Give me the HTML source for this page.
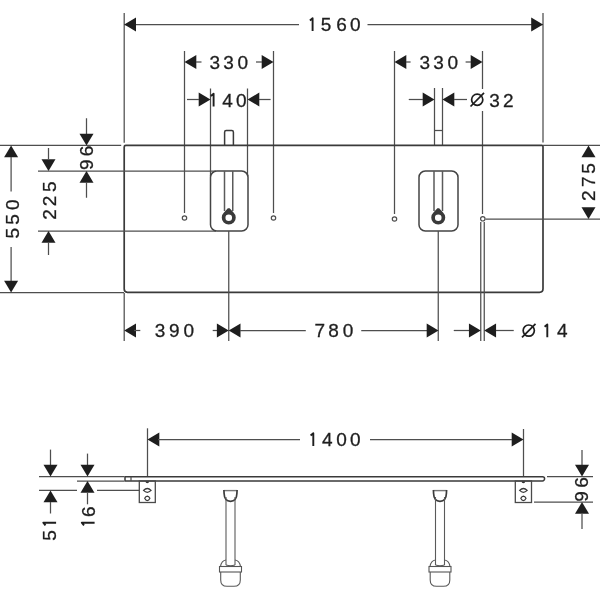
<!DOCTYPE html>
<html><head><meta charset="utf-8"><style>
html,body{margin:0;padding:0;background:#fff;}
svg{display:block;filter:grayscale(100%);}
text{font-family:"Liberation Sans",sans-serif;font-size:19px;fill:#1e1e1e;stroke:#1e1e1e;stroke-width:0.3px;}
</style></head><body>
<svg width="600" height="600" viewBox="0 0 600 600">
<rect width="600" height="600" fill="#fff"/>
<line x1="124.2" y1="13" x2="124.2" y2="142.7" stroke="#4e4e4e" stroke-width="1.25"/>
<line x1="543.0" y1="13" x2="543.0" y2="142.5" stroke="#4e4e4e" stroke-width="1.25"/>
<line x1="124.2" y1="24.5" x2="299" y2="24.5" stroke="#4e4e4e" stroke-width="1.25"/>
<line x1="367.5" y1="24.5" x2="543.0" y2="24.5" stroke="#4e4e4e" stroke-width="1.25"/>
<polygon points="124.20,24.50 136.00,17.50 136.00,31.50" fill="#1e1e1e"/>
<polygon points="543.00,24.50 531.20,17.50 531.20,31.50" fill="#1e1e1e"/>
<path d="M312.60,31 L312.60,18.20 L309.90,20.40" fill="none" stroke="#1e1e1e" stroke-width="1.9" stroke-linejoin="round"/>
<text x="320.70 336.15 350.00" y="31">560</text>
<line x1="184.5" y1="51" x2="184.5" y2="213" stroke="#4e4e4e" stroke-width="1.25"/>
<line x1="273.5" y1="51" x2="273.5" y2="213" stroke="#4e4e4e" stroke-width="1.25"/>
<polygon points="184.50,62.00 196.30,55.00 196.30,69.00" fill="#1e1e1e"/>
<polygon points="273.50,62.00 261.70,55.00 261.70,69.00" fill="#1e1e1e"/>
<line x1="196" y1="62" x2="201.5" y2="62" stroke="#4e4e4e" stroke-width="1.25"/>
<line x1="256" y1="62" x2="262" y2="62" stroke="#4e4e4e" stroke-width="1.25"/>
<text x="209.60 223.30 237.50" y="69">330</text>
<line x1="210.5" y1="88.5" x2="210.5" y2="176" stroke="#4e4e4e" stroke-width="1.25"/>
<line x1="247.5" y1="88.5" x2="247.5" y2="176" stroke="#4e4e4e" stroke-width="1.25"/>
<polygon points="210.50,99.50 198.70,92.50 198.70,106.50" fill="#1e1e1e"/>
<polygon points="247.50,99.50 259.30,92.50 259.30,106.50" fill="#1e1e1e"/>
<line x1="187" y1="99.5" x2="199" y2="99.5" stroke="#4e4e4e" stroke-width="1.25"/>
<line x1="259" y1="99.5" x2="270.6" y2="99.5" stroke="#4e4e4e" stroke-width="1.25"/>
<path d="M213.60,106.5 L213.60,93.70 L210.90,95.90" fill="none" stroke="#1e1e1e" stroke-width="1.9" stroke-linejoin="round"/>
<text x="222.30 236.05" y="106.5">40</text>
<line x1="394.5" y1="51" x2="394.5" y2="214" stroke="#4e4e4e" stroke-width="1.25"/>
<line x1="482.5" y1="51" x2="482.5" y2="89" stroke="#4e4e4e" stroke-width="1.25"/>
<line x1="482.5" y1="111" x2="482.5" y2="214" stroke="#4e4e4e" stroke-width="1.25"/>
<polygon points="394.50,62.00 406.30,55.00 406.30,69.00" fill="#1e1e1e"/>
<polygon points="482.50,62.00 470.70,55.00 470.70,69.00" fill="#1e1e1e"/>
<line x1="406" y1="62" x2="410.6" y2="62" stroke="#4e4e4e" stroke-width="1.25"/>
<line x1="465.6" y1="62" x2="471" y2="62" stroke="#4e4e4e" stroke-width="1.25"/>
<text x="419.60 433.30 447.50" y="69">330</text>
<line x1="434.5" y1="88" x2="434.5" y2="145" stroke="#4e4e4e" stroke-width="1.25"/>
<line x1="442.5" y1="88" x2="442.5" y2="145" stroke="#4e4e4e" stroke-width="1.25"/>
<polygon points="434.50,99.50 422.70,92.50 422.70,106.50" fill="#1e1e1e"/>
<polygon points="442.50,99.50 454.30,92.50 454.30,106.50" fill="#1e1e1e"/>
<line x1="408.75" y1="99.5" x2="423" y2="99.5" stroke="#4e4e4e" stroke-width="1.25"/>
<line x1="454" y1="99.5" x2="467" y2="99.5" stroke="#4e4e4e" stroke-width="1.25"/>
<g fill="none" stroke="#1e1e1e" stroke-width="1.7"><circle cx="477.2" cy="99.7" r="5.6"/><line x1="470.5" y1="106.5" x2="484" y2="92.8"/></g>
<text x="489.20 503.10" y="106.7">32</text>
<path d="M124.2,146.9 Q124.2,145.3 125.8,145.3 L541.8,145.3 Q543.0,145.3 543.0,146.5 L543.0,288.8 Q543.0,292.3 539.5,292.3 L127.4,292.3 Q124.2,292.3 124.2,289.1 Z" fill="none" stroke="#3a3a3a" stroke-width="1.7"/>
<line x1="0" y1="145.4" x2="121.2" y2="145.4" stroke="#4e4e4e" stroke-width="1.25"/>
<line x1="543" y1="145.4" x2="600" y2="145.4" stroke="#4e4e4e" stroke-width="1.25"/>
<line x1="38" y1="171" x2="216" y2="171" stroke="#4e4e4e" stroke-width="1.25"/>
<line x1="38" y1="231" x2="216" y2="231" stroke="#4e4e4e" stroke-width="1.25"/>
<line x1="0" y1="292.6" x2="124" y2="292.6" stroke="#4e4e4e" stroke-width="1.25"/>
<line x1="485.5" y1="219" x2="600" y2="219" stroke="#4e4e4e" stroke-width="1.25"/>
<rect x="210.5" y="171" width="37.5" height="60" rx="6.3" fill="none" stroke="#444" stroke-width="1.5"/>
<line x1="224.5" y1="171" x2="224.5" y2="211" stroke="#5a5a5a" stroke-width="1.5"/>
<line x1="232.75" y1="171" x2="232.75" y2="211" stroke="#5a5a5a" stroke-width="1.5"/>
<path d="M227.85,208.2 L229.65,208.2 L233.54,212.50 A7.0,7.0 0 1 1 223.96,212.50 Z M232.05,217.75 A3.3,3.3 0 1 0 225.45,217.75 A3.3,3.3 0 1 0 232.05,217.75 Z" fill="#3a3a3a" fill-rule="evenodd"/>
<line x1="228.75" y1="231" x2="228.75" y2="341" stroke="#4e4e4e" stroke-width="1.25"/>
<rect x="419" y="171" width="39" height="60" rx="6.3" fill="none" stroke="#444" stroke-width="1.5"/>
<line x1="434" y1="171" x2="434" y2="211" stroke="#5a5a5a" stroke-width="1.5"/>
<line x1="442.5" y1="171" x2="442.5" y2="211" stroke="#5a5a5a" stroke-width="1.5"/>
<path d="M437.35,208.2 L439.15,208.2 L443.04,212.50 A7.0,7.0 0 1 1 433.46,212.50 Z M441.55,217.75 A3.3,3.3 0 1 0 434.95,217.75 A3.3,3.3 0 1 0 441.55,217.75 Z" fill="#3a3a3a" fill-rule="evenodd"/>
<line x1="438.25" y1="231" x2="438.25" y2="341" stroke="#4e4e4e" stroke-width="1.25"/>
<path d="M224.6,145 L224.6,132.2 Q224.6,130.6 226.2,130.6 L231.8,130.6 Q233.4,130.6 233.4,132.2 L233.4,145" fill="none" stroke="#3a3a3a" stroke-width="1.5"/>
<line x1="434.5" y1="130.5" x2="442.5" y2="130.5" stroke="#4e4e4e" stroke-width="1.25"/>
<circle cx="184.5" cy="218" r="2.2" fill="none" stroke="#4e4e4e" stroke-width="1.2"/>
<circle cx="273.5" cy="218" r="2.2" fill="none" stroke="#4e4e4e" stroke-width="1.2"/>
<circle cx="394.5" cy="219" r="2.2" fill="none" stroke="#4e4e4e" stroke-width="1.2"/>
<circle cx="482.8" cy="218.8" r="2.2" fill="none" stroke="#4e4e4e" stroke-width="1.2"/>
<line x1="480.75" y1="222" x2="480.75" y2="341" stroke="#4e4e4e" stroke-width="1.25"/>
<line x1="484.25" y1="222" x2="484.25" y2="341" stroke="#4e4e4e" stroke-width="1.25"/>
<line x1="124.2" y1="293" x2="124.2" y2="341" stroke="#4e4e4e" stroke-width="1.25"/>
<polygon points="124.20,330.50 136.00,323.50 136.00,337.50" fill="#1e1e1e"/>
<line x1="134" y1="330.5" x2="140.3" y2="330.5" stroke="#4e4e4e" stroke-width="1.25"/>
<text x="154.80 168.90 183.50" y="337.3">390</text>
<line x1="212.7" y1="330.5" x2="218" y2="330.5" stroke="#4e4e4e" stroke-width="1.25"/>
<polygon points="228.70,330.50 216.90,323.50 216.90,337.50" fill="#1e1e1e"/>
<polygon points="228.70,330.50 240.50,323.50 240.50,337.50" fill="#1e1e1e"/>
<line x1="240" y1="330.5" x2="305.8" y2="330.5" stroke="#4e4e4e" stroke-width="1.25"/>
<text x="314.50 328.25 342.65" y="337">780</text>
<line x1="361.25" y1="330.5" x2="427" y2="330.5" stroke="#4e4e4e" stroke-width="1.25"/>
<polygon points="438.50,330.50 426.70,323.50 426.70,337.50" fill="#1e1e1e"/>
<line x1="453.75" y1="330.5" x2="469" y2="330.5" stroke="#4e4e4e" stroke-width="1.25"/>
<polygon points="480.75,330.50 468.95,323.50 468.95,337.50" fill="#1e1e1e"/>
<polygon points="484.25,330.50 496.05,323.50 496.05,337.50" fill="#1e1e1e"/>
<line x1="496" y1="330.5" x2="513.75" y2="330.5" stroke="#4e4e4e" stroke-width="1.25"/>
<g fill="none" stroke="#1e1e1e" stroke-width="1.7"><circle cx="528.75" cy="330.6" r="5.6"/><line x1="522" y1="337.4" x2="535.5" y2="323.8"/></g>
<path d="M547.30,337.3 L547.30,324.50 L544.60,326.70" fill="none" stroke="#1e1e1e" stroke-width="1.9" stroke-linejoin="round"/>
<text x="557.05" y="337.3">4</text>
<polygon points="11.10,145.50 4.10,157.30 18.10,157.30" fill="#1e1e1e"/>
<line x1="11.1" y1="157" x2="11.1" y2="191.5" stroke="#4e4e4e" stroke-width="1.25"/>
<line x1="11.1" y1="247" x2="11.1" y2="281" stroke="#4e4e4e" stroke-width="1.25"/>
<polygon points="11.10,292.50 4.10,280.70 18.10,280.70" fill="#1e1e1e"/>
<text transform="rotate(-90)" x="-238.55 -224.80 -210.00" y="18.5">550</text>
<line x1="48.5" y1="148" x2="48.5" y2="159" stroke="#4e4e4e" stroke-width="1.25"/>
<polygon points="48.50,171.00 41.50,159.20 55.50,159.20" fill="#1e1e1e"/>
<polygon points="48.50,231.00 41.50,242.80 55.50,242.80" fill="#1e1e1e"/>
<line x1="48.5" y1="242" x2="48.5" y2="255" stroke="#4e4e4e" stroke-width="1.25"/>
<text transform="rotate(-90)" x="-219.70 -206.30 -192.10" y="55.8">225</text>
<line x1="86.5" y1="118.25" x2="86.5" y2="134" stroke="#4e4e4e" stroke-width="1.25"/>
<polygon points="86.50,145.50 79.50,133.70 93.50,133.70" fill="#1e1e1e"/>
<polygon points="86.50,171.00 79.50,182.80 93.50,182.80" fill="#1e1e1e"/>
<line x1="86.5" y1="182" x2="86.5" y2="197.75" stroke="#4e4e4e" stroke-width="1.25"/>
<text transform="rotate(-90)" x="-170.00 -156.35" y="93.3">96</text>
<polygon points="588.50,145.50 581.50,157.30 595.50,157.30" fill="#1e1e1e"/>
<polygon points="588.50,219.00 581.50,207.20 595.50,207.20" fill="#1e1e1e"/>
<text transform="rotate(-90)" x="-201.10 -187.10 -173.80" y="595.2">275</text>
<line x1="147.5" y1="428.3" x2="147.5" y2="476.7" stroke="#4e4e4e" stroke-width="1.25"/>
<line x1="523.5" y1="429" x2="523.5" y2="476.7" stroke="#4e4e4e" stroke-width="1.25"/>
<polygon points="147.50,439.50 159.30,432.50 159.30,446.50" fill="#1e1e1e"/>
<polygon points="523.50,439.50 511.70,432.50 511.70,446.50" fill="#1e1e1e"/>
<line x1="158" y1="439.5" x2="300" y2="439.5" stroke="#4e4e4e" stroke-width="1.25"/>
<line x1="370" y1="439.5" x2="512" y2="439.5" stroke="#4e4e4e" stroke-width="1.25"/>
<path d="M313.30,446 L313.30,433.20 L310.60,435.40" fill="none" stroke="#1e1e1e" stroke-width="1.9" stroke-linejoin="round"/>
<text x="322.05 336.25 350.00" y="446">400</text>
<path d="M125,476.7 L542.5,476.7 A2.1,2.1 0 0 1 542.5,480.9 L125,480.9 Z" fill="none" stroke="#3a3a3a" stroke-width="1.5"/>
<line x1="131" y1="476.7" x2="131" y2="480.9" stroke="#4e4e4e" stroke-width="1.25"/>
<line x1="39" y1="476.6" x2="124" y2="476.6" stroke="#4e4e4e" stroke-width="1.25"/>
<line x1="77" y1="481" x2="124" y2="481" stroke="#4e4e4e" stroke-width="1.25"/>
<line x1="39" y1="490.4" x2="77" y2="490.4" stroke="#4e4e4e" stroke-width="1.25"/>
<line x1="97" y1="490.4" x2="139.2" y2="490.4" stroke="#4e4e4e" stroke-width="1.25"/>
<line x1="547" y1="476.6" x2="593" y2="476.6" stroke="#4e4e4e" stroke-width="1.25"/>
<line x1="534" y1="502" x2="593" y2="502" stroke="#4e4e4e" stroke-width="1.25"/>
<rect x="139.3" y="481" width="16.0" height="21.5" fill="none" stroke="#4a4a4a" stroke-width="1.3"/>
<path d="M145.5,481.5 A1.8,1.8 0 0 0 149.10000000000002,481.5 Z" fill="#333"/>
<path d="M143.5,490.4 Q147.3,486.6 151.10000000000002,490.4 Q147.3,494.2 143.5,490.4 Z" fill="none" stroke="#3a3a3a" stroke-width="1.2"/>
<path d="M144.70000000000002,498.3 Q145.70000000000002,496.2 147.3,496.1 Q148.9,496.2 149.9,498.3 Q148.9,500.6 147.3,500.6 Q145.70000000000002,500.6 144.70000000000002,498.3 Z" fill="none" stroke="#3a3a3a" stroke-width="1.2"/>
<rect x="515.3" y="481" width="16.200000000000045" height="21.5" fill="none" stroke="#4a4a4a" stroke-width="1.3"/>
<path d="M521.6,481.5 A1.8,1.8 0 0 0 525.1999999999999,481.5 Z" fill="#333"/>
<path d="M519.6,490.4 Q523.4,486.6 527.1999999999999,490.4 Q523.4,494.2 519.6,490.4 Z" fill="none" stroke="#3a3a3a" stroke-width="1.2"/>
<path d="M520.8,498.3 Q521.8,496.2 523.4,496.1 Q525.0,496.2 526.0,498.3 Q525.0,500.6 523.4,500.6 Q521.8,500.6 520.8,498.3 Z" fill="none" stroke="#3a3a3a" stroke-width="1.2"/>
<line x1="50.5" y1="449.6" x2="50.5" y2="465" stroke="#4e4e4e" stroke-width="1.25"/>
<polygon points="50.50,476.60 43.50,464.80 57.50,464.80" fill="#1e1e1e"/>
<polygon points="50.50,490.40 43.50,502.20 57.50,502.20" fill="#1e1e1e"/>
<line x1="50.5" y1="502" x2="50.5" y2="513.5" stroke="#4e4e4e" stroke-width="1.25"/>
<path d="M56.1,522.70 L43.30,522.70 L45.50,525.40" fill="none" stroke="#1e1e1e" stroke-width="1.9" stroke-linejoin="round"/>
<text transform="rotate(-90)" x="-540.80" y="56.1">5</text>
<line x1="87.5" y1="453.6" x2="87.5" y2="465" stroke="#4e4e4e" stroke-width="1.25"/>
<polygon points="87.50,476.60 80.50,464.80 94.50,464.80" fill="#1e1e1e"/>
<polygon points="87.50,481.00 80.50,492.80 94.50,492.80" fill="#1e1e1e"/>
<line x1="87.5" y1="493" x2="87.5" y2="504.3" stroke="#4e4e4e" stroke-width="1.25"/>
<path d="M94.6,522.70 L81.80,522.70 L84.00,525.40" fill="none" stroke="#1e1e1e" stroke-width="1.9" stroke-linejoin="round"/>
<text transform="rotate(-90)" x="-516.95" y="94.6">6</text>
<line x1="582" y1="450" x2="582" y2="465" stroke="#4e4e4e" stroke-width="1.25"/>
<polygon points="582.00,476.60 575.00,464.80 589.00,464.80" fill="#1e1e1e"/>
<polygon points="582.00,502.00 575.00,513.80 589.00,513.80" fill="#1e1e1e"/>
<line x1="582" y1="514" x2="582" y2="529" stroke="#4e4e4e" stroke-width="1.25"/>
<text transform="rotate(-90)" x="-501.80 -487.65" y="588.3">96</text>
<g fill="none" stroke="#5a5a5a" stroke-width="1.1">
<line x1="223.9" y1="490.6" x2="237.1" y2="490.6" stroke="#777" stroke-width="1.4"/>
<path d="M223.9,490 L224.1,493.5 C224.3,499 227.0,501.3 230.5,501.3 C234.0,501.3 236.7,499 236.9,493.5 L237.1,490" stroke="#3c3c3c" stroke-width="1.7"/>
<line x1="226.0" y1="497" x2="226.0" y2="565"/><line x1="235.0" y1="497" x2="235.0" y2="565"/>
<path d="M220.5,566.5 Q221.5,560.5 226.0,560" /><path d="M240.5,566.5 Q239.5,560.5 235.0,560"/>
<path d="M226.0,565 Q230.5,566.5 235.0,565"/>
<rect x="219.5" y="566.5" width="22" height="5.5" stroke="#555"/>
<path d="M220.7,572 L220.7,580 Q220.7,586.3 227.0,586.3 L234.0,586.3 Q240.3,586.3 240.3,580 L240.3,572"/>
</g>
<g fill="none" stroke="#5a5a5a" stroke-width="1.1">
<line x1="433.4" y1="490.6" x2="446.6" y2="490.6" stroke="#777" stroke-width="1.4"/>
<path d="M433.4,490 L433.6,493.5 C433.8,499 436.5,501.3 440,501.3 C443.5,501.3 446.2,499 446.4,493.5 L446.6,490" stroke="#3c3c3c" stroke-width="1.7"/>
<line x1="435.5" y1="497" x2="435.5" y2="565"/><line x1="444.5" y1="497" x2="444.5" y2="565"/>
<path d="M430,566.5 Q431,560.5 435.5,560" /><path d="M450,566.5 Q449,560.5 444.5,560"/>
<path d="M435.5,565 Q440,566.5 444.5,565"/>
<rect x="429" y="566.5" width="22" height="5.5" stroke="#555"/>
<path d="M430.2,572 L430.2,580 Q430.2,586.3 436.5,586.3 L443.5,586.3 Q449.8,586.3 449.8,580 L449.8,572"/>
</g>
</svg></body></html>
